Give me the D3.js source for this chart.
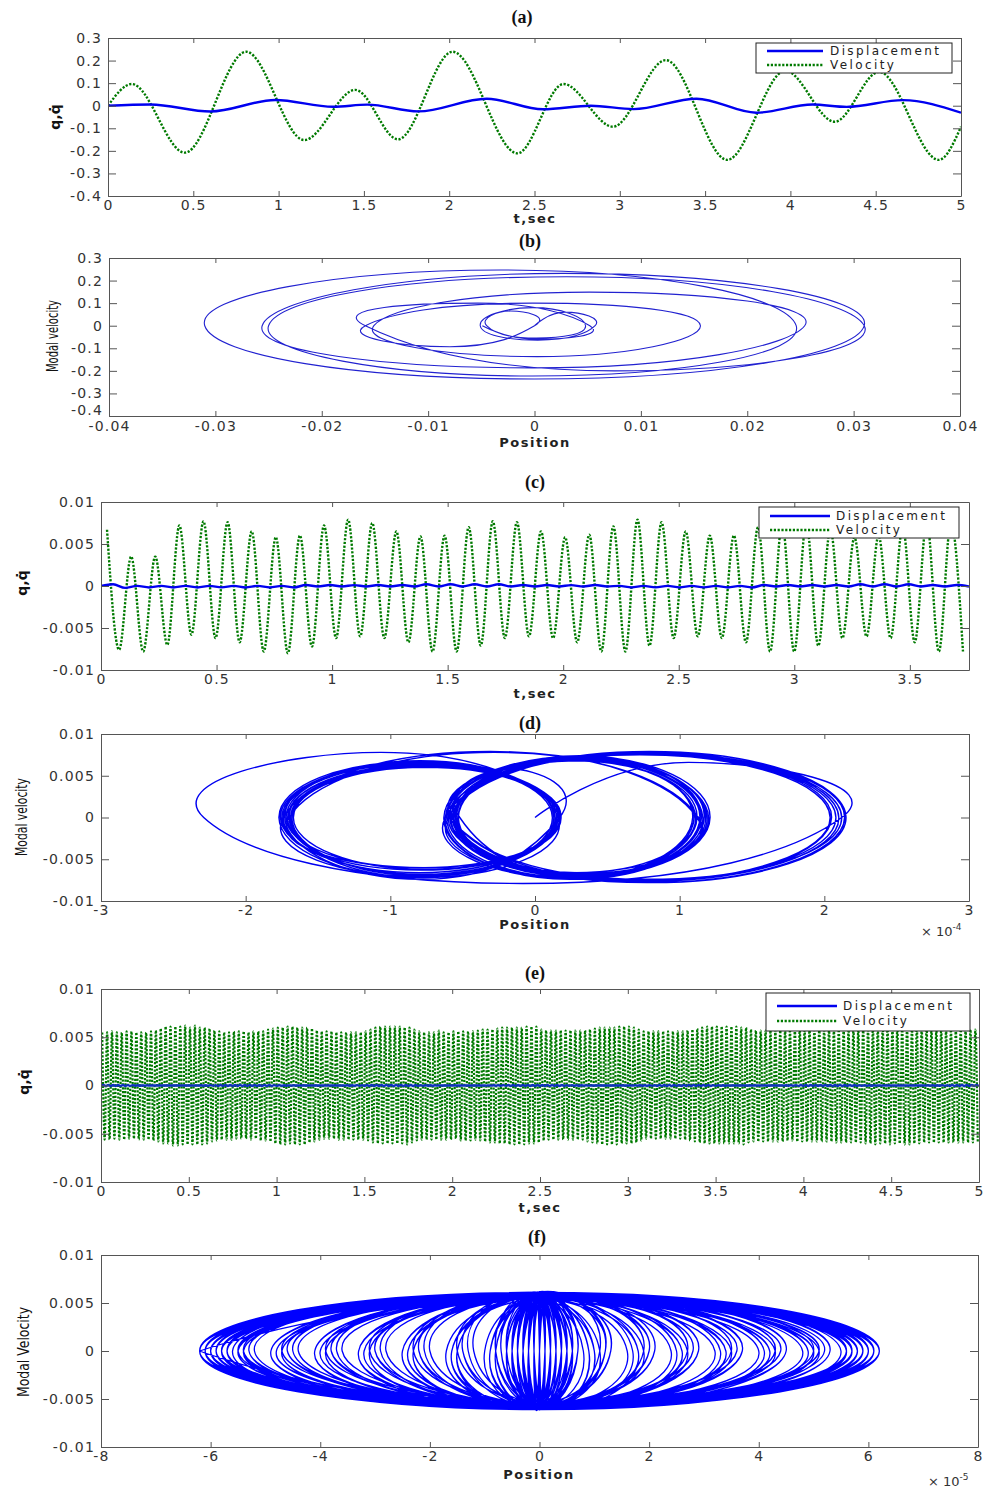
<!DOCTYPE html>
<html><head>
<meta charset="utf-8">
<script src="https://d3js.org/d3.v7.min.js"></script>
<style>
  body { margin: 0; background: #fff; }
  svg text { font-family: 'DejaVu Sans', sans-serif; }
  .tick text { font-size: 14px; fill: #333; letter-spacing: 1.2px; }
  .axis path, .axis line { stroke: #555; }
  .lbl { font-size: 13px; font-weight: bold; fill: #222; letter-spacing: 1.5px; }
  .ttl { font-family: 'Liberation Serif', serif !important; font-size: 18px; font-weight: bold; fill: #111; }
  .leg { font-size: 12px; fill: #222; letter-spacing: 2.4px; }
</style>
</head>
<body>
<svg id="chart" width="984" height="1488"></svg>
<script>
// ---------- data ----------
// (a) time response, extremes
const aVelT  = [0, 0.14, 0.45, 0.81, 1.15, 1.45, 1.70, 2.02, 2.40, 2.67, 2.96, 3.27, 3.63, 3.97, 4.26, 4.52, 4.87, 5.0];
const aVel   = [0, 0.096, -0.208, 0.239, -0.152, 0.07, -0.149, 0.239, -0.211, 0.096, -0.093, 0.202, -0.24, 0.155, -0.071, 0.15, -0.24, -0.093];
const aDispT = [0, 0.25, 0.6, 0.98, 1.32, 1.52, 1.82, 2.22, 2.55, 2.83, 3.08, 3.45, 3.8, 4.13, 4.33, 4.66, 5.0];
const aDisp  = [0, 0.0057, -0.0256, 0.0254, -0.0045, 0.0048, -0.025, 0.031, -0.0159, 0.0, -0.0151, 0.031, -0.031, 0.0052, -0.0051, 0.0246, -0.031];

// (b) phase loops: position turning points and the velocity extremes between them
const bPos = [0, 0.0057, -0.0051, 0.0048, -0.0045, 0.0, -0.0159, 0.0156, -0.0151, 0.0254,
              -0.0256, 0.031, -0.031, 0.0246, -0.025, 0.031, -0.0159, 0.0052, -0.0049];
const bVel = [0.06, -0.064, 0.08, -0.055, 0.065, -0.093, 0.1, -0.137, 0.149, -0.187,
              0.232, -0.236, 0.247, -0.223, 0.217, -0.2, 0.1, -0.06];

// (c) velocity extremes (x1e-4), peaks and troughs in time order
const cVel = [67,-76,35,-78,35,-70,72,-58,77,-62, 76,-67,65,-78,58,-80,60,-72,72,-62,
              79,-60,75,-62,65,-67,59,-78,60,-78, 70,-71,77,-62,76,-60,65,-62,58,-67,
              61,-78,71,-78,79,-71,76,-62,65,-60, 60,-62,60,-67,70,-78,75,-78,76,-71,
              68,-62,58,-60,60,-62,71,-67,77,-78, 76,-78];
// (c)/(d) position turning points (x1e-4)
const dPos = [0,2.12,-2.29,0.16,-1.70,0.15,-1.75,0.17,-1.72,0.13, -1.68,0.18,-1.76,0.14,-1.71,0.16,-1.74,1.12,-0.58,1.18,
              -0.55,1.10,-0.62,1.20,-0.53,1.15,-0.60,2.08,-0.57,2.15, -0.55,2.05,-0.60,2.12,-0.58,1.14,-0.61,1.19,-0.54,1.09,
              -0.63,1.16,-0.52,0.17,-1.73,0.12,-1.69,0.16,-1.77,0.14, -1.67,0.15,-1.74,0.18,-1.70,1.13,-0.56,1.21,-0.59,1.11,
              -0.53,1.17,-0.62,2.10,-0.56,2.14,-0.59,2.04,-0.57,1.15, -0.55,1.12,-0.60];
// (d) loop velocity extremes (x1e-4)
const dVel = [66,-79,78,-72,62,-66,65,-60,68,-70, 60,-63,66,-68,63,-71,79,-66,72,-70,
              68,-74,71,-67,74,-72,77,-75,79,-78, 76,-77,78,-74,70,-72,73,-68,69,-73,
              72,-70,58,-74,64,-69,61,-71,67,-62, 60,-66,65,-60,78,-69,73,-71,70,-66,
              72,-74,78,-76,77,-78,75,-76,71,-70, 68,-72];

// (e)/(f) velocity extreme magnitudes (x1e-4), peaks and troughs alternate
const eVelMag = [
 55,56,55,56,56,55,55,56,55,56,56,55,56,55,55,56,55,56,55,56,56,57,57,58,
 59,60,61,60,61,62,61,62,61,61,62,61,60,61,62,61,60,61,60,60,59,58,57,57,
 56,56,55,56,55,56,56,55,56,55,56,55,55,56,56,55,56,57,56,57,58,58,59,60,
 60,61,60,61,61,60,61,61,60,61,60,61,60,59,59,58,57,56,56,55,56,55,56,55,
 55,56,55,56,55,56,55,56,55,56,55,56,56,57,58,59,60,60,61,60,61,60,61,60,
 61,60,61,60,60,61,60,59,58,57,56,56,55,56,55,56,55,56,57,56,55,56,55,56,
 56,55,56,57,56,57,56,57,56,56,57,57,58,58,58,59,58,59,59,60,60,60,60,61,
 60,61,60,61,60,61,61,60,61,60,61,59,58,57,57,56,57,56,57,56,57,56,57,56,
 57,56,57,56,57,56,57,58,58,59,59,60,60,61,60,61,60,61,60,61,61,60,61,60,
 61,60,60,59,58,57,56,55,56,55,56,55,56,55,56,55,56,55,56,55,56,55,56,56,
 57,57,58,58,59,59,60,60,61,60,61,60,61,60,61,60,61,60,61,60,61,60,60,61,
 60,59,58,58,57,58,57,58,57,58,57,58,57,58,57,58,58,57,58,57,58,58,59,58,
 59,58,59,58,59,58,59,58,59,58,59,58,58,59,58,59,58,59,58,59,58,59,58,59,
 59,60,59,60,60,61,60,60,61,60,60,61,60,60,61,60,60,61,60,61,60,60,61,60,
 60,59,60,59,58,59,58,59,58,59,58,59,58,59,58,59,58,59,58,59,58,59,58,59];
// (e)/(f) position turning-point magnitudes (x1e-6), max and min alternate
const ePosMag = [
 62,62,61,61,60,59,58,57,54,50,46,42,38,34,30,26,22,18,14,10,7,6,5,4,3,2,2,1,1,0,
 0,1,2,2,3,4,5,6,8,11,15,19,23,27,31,35,39,43,47,51,55,57,58,59,60,61,61,62,62,62,
 61,62,61,60,60,59,58,56,53,49,45,41,37,33,29,25,21,17,13,9,7,5,4,4,3,2,1,1,0,0,
 1,1,2,3,3,4,5,6,9,12,16,20,24,28,32,36,40,44,48,52,55,56,58,59,60,60,61,62,61,62,
 62,61,61,60,59,58,57,55,52,48,44,40,36,32,28,24,20,16,12,8,6,5,4,3,3,2,1,0,1,0,
 0,2,1,2,3,5,6,7,10,13,17,21,25,29,33,37,41,45,49,53,56,57,58,60,60,61,62,61,62,62,
 62,62,61,60,60,58,57,56,55,51,47,43,39,35,31,27,23,19,15,11,8,6,5,4,3,2,1,1,0,1,
 0,1,2,3,4,4,5,7,8,12,16,20,24,28,32,36,40,44,48,51,54,56,57,59,60,61,61,62,62,61,
 61,62,60,61,59,58,57,56,53,49,45,41,37,33,29,25,21,17,13,9,6,5,4,3,2,2,1,0,0,1,
 1,0,2,3,3,4,6,7,9,13,17,21,25,29,33,37,41,45,49,53,55,57,58,59,60,61,62,61,62,62,
 62,61,61,60,59,59,58,56,54,50,46,42,38,34,30,26,22,18,14,10,8,6,5,4,3,2,1,1,0,0,
 1,1,2,3,4,5,5,6,9,12,15,19,23,27,31,35,39,43,47,50,54,56,57,58,59,60,61,61,62,62,62];

// tick labels
const tLabels5   = ['0','0.5','1','1.5','2','2.5','3','3.5','4','4.5','5'];
const tLabelsC   = ['0','0.5','1','1.5','2','2.5','3','3.5'];
const yLabelsAB  = ['-0.4','-0.3','-0.2','-0.1','0','0.1','0.2','0.3'];
const yLabelsSm  = ['-0.01','-0.005','0','0.005','0.01'];
const xLabelsB   = ['-0.04','-0.03','-0.02','-0.01','0','0.01','0.02','0.03','0.04'];
const xLabelsD   = ['-3','-2','-1','0','1','2','3'];
const xLabelsF   = ['-8','-6','-4','-2','0','2','4','6','8'];

// ---------- helpers ----------
const svg = d3.select('#chart');
const defs = svg.append('defs');
const BLUE = '#0000f0', GREEN = '#007a00';

function panel(p) {
  const x = d3.scaleLinear().domain(p.xDom).range([p.x0, p.x1]);
  const y = d3.scaleLinear().domain(p.yDom).range([p.y1, p.y0]);
  defs.append('clipPath').attr('id', 'clip-' + p.id)
    .append('rect').attr('x', p.x0).attr('y', p.y0).attr('width', p.x1 - p.x0).attr('height', p.y1 - p.y0);
  const plot = svg.append('g').attr('clip-path', `url(#clip-${p.id})`);
  return {x, y, plot};
}

function axes(p, x, y) {
  svg.append('g').attr('class', 'axis').attr('transform', `translate(0,${p.y1})`)
    .call(d3.axisBottom(x).tickValues(p.xTicks).tickFormat((d, i) => p.xLabels[i]).tickSizeInner(-5).tickSizeOuter(0).tickPadding(p.xPad || 4));
  svg.append('g').attr('class', 'axis').attr('transform', `translate(0,${p.y0})`)
    .call(d3.axisTop(x).tickValues(p.xTicks).tickFormat('').tickSizeInner(-5).tickSizeOuter(0));
  const left = svg.append('g').attr('class', 'axis').attr('transform', `translate(${p.x0},0)`)
    .call(d3.axisLeft(y).tickValues(p.yTicks).tickFormat((d, i) => p.yLabels[i]).tickSizeInner(-8).tickSizeOuter(0).tickPadding(6));
  // lift the lowest y label a little where it meets the first x label
  if (p.lowLift) left.selectAll('.tick text').filter((d, i) => i === 0).attr('dy', '-0.1em');
  svg.append('g').attr('class', 'axis').attr('transform', `translate(${p.x1},0)`)
    .call(d3.axisRight(y).tickValues(p.yTicks).tickFormat('').tickSizeInner(-8).tickSizeOuter(0));

  svg.append('text').attr('class', 'ttl').attr('x', p.title[1]).attr('y', p.title[2])
    .attr('text-anchor', 'middle').text(p.title[0]);
  svg.append('text').attr('class', 'lbl').attr('x', p.xLab[1]).attr('y', p.xLab[2])
    .attr('text-anchor', 'middle').text(p.xLab[0]);
  const yl = svg.append('text').attr('transform', `translate(${p.yLab[1]},${p.yLab[2]}) rotate(-90)`)
    .attr('text-anchor', 'middle').attr('dominant-baseline', 'central').text(p.yLab[0]);
  if (p.yLab[3]) {
    yl.attr('font-family', "'Liberation Sans Narrow','Liberation Sans',sans-serif").attr('font-size', 15)
      .attr('fill', '#111').attr('textLength', p.yLab[3]).attr('lengthAdjust', 'spacingAndGlyphs');
  } else {
    yl.attr('font-size', 14).attr('font-weight', 'bold').attr('fill', '#111');
  }
  if (p.expo) {
    const t = svg.append('text').attr('x', p.expo[1]).attr('y', p.expo[2]).attr('font-size', 13).attr('fill', '#333');
    t.append('tspan').text('\u00d7 10');
    t.append('tspan').attr('dy', -6).attr('font-size', 9).text(p.expo[0]);
  }
}

function legend(L) {
  const g = svg.append('g');
  g.append('rect').attr('x', L.x).attr('y', L.y).attr('width', L.w).attr('height', L.h)
    .attr('fill', '#fff').attr('stroke', '#222').attr('stroke-width', 1);
  g.append('line').attr('x1', L.l1).attr('x2', L.l2).attr('y1', L.r1).attr('y2', L.r1)
    .attr('stroke', BLUE).attr('stroke-width', 2.4);
  g.append('line').attr('x1', L.l1).attr('x2', L.l2).attr('y1', L.r2).attr('y2', L.r2)
    .attr('stroke', GREEN).attr('stroke-width', 2.4).attr('stroke-dasharray', '2.2,1.6');
  g.append('text').attr('class', 'leg').attr('x', L.tx).attr('y', L.r1 + 4.3).text('Displacement');
  g.append('text').attr('class', 'leg').attr('x', L.tx).attr('y', L.r2 + 4.3).text('Velocity');
}

// trajectory through position turning points (v = 0) and the velocity extremes between them
function phasePts(xs, vs) {
  const pts = [];
  xs.forEach((xv, i) => {
    pts.push([xv, 0]);
    if (i < vs.length && i + 1 < xs.length) pts.push([(xv + xs[i + 1]) / 2, vs[i]]);
  });
  return pts;
}

const ticks = (a, b, s) => d3.range(a, b + s / 2, s);
const tsLine = (x, y) => d3.line().x(d => x(d[0])).y(d => y(d[1])).curve(d3.curveMonotoneX);
const phLine = (x, y) => d3.line().x(d => x(d[0])).y(d => y(d[1])).curve(d3.curveCardinal.tension(-0.65));

// ---------- (a) ----------
{
  const p = {id: 'a', x0: 108, x1: 961, y0: 38, y1: 196, xDom: [0, 5], yDom: [-0.4, 0.3],
    xTicks: ticks(0, 5, 0.5), xLabels: tLabels5, yTicks: ticks(-0.4, 0.3, 0.1), yLabels: yLabelsAB,
    title: ['(a)', 522, 23], xLab: ['t,sec', 535, 223], yLab: ['q,q\u0307', 55, 117]};
  const {x, y, plot} = panel(p);
  plot.append('path').datum(aVelT.map((t, i) => [t, aVel[i]])).attr('d', tsLine(x, y))
    .attr('fill', 'none').attr('stroke', GREEN).attr('stroke-width', 2.4).attr('stroke-dasharray', '2.2,1.6');
  plot.append('path').datum(aDispT.map((t, i) => [t, aDisp[i]])).attr('d', tsLine(x, y))
    .attr('fill', 'none').attr('stroke', BLUE).attr('stroke-width', 2.4);
  axes(p, x, y);
  legend({x: 756, y: 43, w: 196, h: 30, l1: 767, l2: 823, tx: 830, r1: 51, r2: 65});
}

// ---------- (b) ----------
{
  const p = {id: 'b', x0: 109, x1: 960, y0: 258, y1: 416, xDom: [-0.04, 0.04], yDom: [-0.4, 0.3],
    xTicks: ticks(-0.04, 0.04, 0.01), xLabels: xLabelsB, yTicks: ticks(-0.4, 0.3, 0.1), yLabels: yLabelsAB,
    xPad: 5, lowLift: true,
    title: ['(b)', 530, 247], xLab: ['Position', 535, 447], yLab: ['Modal velocity', 53, 336, 72]};
  const {x, y, plot} = panel(p);
  plot.append('path').datum(phasePts(bPos, bVel)).attr('d', phLine(x, y))
    .attr('fill', 'none').attr('stroke', '#2222d0').attr('stroke-width', 1.1);
  axes(p, x, y);
}

// ---------- (c) ----------
{
  const p = {id: 'c', x0: 101, x1: 969, y0: 502, y1: 670, xDom: [0, 3.756], yDom: [-0.01, 0.01],
    xTicks: ticks(0, 3.5, 0.5), xLabels: tLabelsC, yTicks: ticks(-0.01, 0.01, 0.005), yLabels: yLabelsSm,
    title: ['(c)', 535, 488], xLab: ['t,sec', 535, 698], yLab: ['q,q\u0307', 22, 583]};
  const {x, y, plot} = panel(p);
  const k = d3.scaleLinear().domain([0, 2 * cVel.length]).range([0, 3.756]);
  plot.append('path').datum(cVel.map((v, j) => [k(2 * j + 1), v * 1e-4])).attr('d', tsLine(x, y))
    .attr('fill', 'none').attr('stroke', GREEN).attr('stroke-width', 2.4).attr('stroke-dasharray', '2.2,1.6');
  plot.append('path').datum(dPos.map((v, i) => [k(2 * i), v * 1e-4])).attr('d', tsLine(x, y))
    .attr('fill', 'none').attr('stroke', BLUE).attr('stroke-width', 2.4);
  axes(p, x, y);
  legend({x: 759, y: 507, w: 200, h: 31, l1: 770, l2: 830, tx: 836, r1: 516, r2: 530});
}

// ---------- (d) ----------
{
  const p = {id: 'd', x0: 101, x1: 969, y0: 734, y1: 901, xDom: [-3e-4, 3e-4], yDom: [-0.01, 0.01],
    xTicks: ticks(-3, 3, 1).map(v => v * 1e-4), xLabels: xLabelsD, yTicks: ticks(-0.01, 0.01, 0.005), yLabels: yLabelsSm,
    title: ['(d)', 530, 729], xLab: ['Position', 535, 929], yLab: ['Modal velocity', 22, 817, 78],
    expo: ['-4', 921, 936]};
  const {x, y, plot} = panel(p);
  plot.append('path').datum(phasePts(dPos.map(v => v * 1e-4), dVel.map(v => v * 1e-4))).attr('d', phLine(x, y))
    .attr('fill', 'none').attr('stroke', BLUE).attr('stroke-width', 1.4);
  axes(p, x, y);
}

// ---------- (e) / (f) share the same extremes ----------
const eVel = eVelMag.map((m, j) => (j % 2 === 0 ? 1 : -1) * m * 1e-4);
const ePos = ePosMag.map((m, i) => (i % 2 === 1 ? 1 : -1) * m * 1e-6);

{
  const p = {id: 'e', x0: 101, x1: 979, y0: 989, y1: 1182, xDom: [0, 5], yDom: [-0.01, 0.01],
    xTicks: ticks(0, 5, 0.5), xLabels: tLabels5, yTicks: ticks(-0.01, 0.01, 0.005), yLabels: yLabelsSm,
    title: ['(e)', 535, 979], xLab: ['t,sec', 540, 1212], yLab: ['q,q\u0307', 24, 1082]};
  const {x, y, plot} = panel(p);
  const k = d3.scaleLinear().domain([0, 2 * eVel.length]).range([0, 5]);
  plot.append('path').datum(eVel.map((v, j) => [k(2 * j + 1), v])).attr('d', tsLine(x, y))
    .attr('fill', 'none').attr('stroke', GREEN).attr('stroke-width', 2.2).attr('stroke-dasharray', '2.2,1.6');
  plot.append('path').datum(ePos.map((v, i) => [k(2 * i), v])).attr('d', tsLine(x, y))
    .attr('fill', 'none').attr('stroke', '#1030c0').attr('stroke-width', 2.4);
  axes(p, x, y);
  legend({x: 766, y: 993, w: 204, h: 38, l1: 777, l2: 837, tx: 843, r1: 1006, r2: 1021});
}

{
  const p = {id: 'f', x0: 101, x1: 978, y0: 1255, y1: 1447, xDom: [-8e-5, 8e-5], yDom: [-0.01, 0.01],
    xTicks: ticks(-8, 8, 2).map(v => v * 1e-5), xLabels: xLabelsF, yTicks: ticks(-0.01, 0.01, 0.005), yLabels: yLabelsSm,
    title: ['(f)', 537, 1243], xLab: ['Position', 539, 1479], yLab: ['Modal Velocity', 24, 1352, 90],
    expo: ['-5', 928, 1486]};
  const {x, y, plot} = panel(p);
  plot.append('path').datum(phasePts(ePos, eVel)).attr('d', phLine(x, y))
    .attr('fill', 'none').attr('stroke', '#0000ff').attr('stroke-width', 1.3);
  axes(p, x, y);
}
</script>
</body>
</html>
